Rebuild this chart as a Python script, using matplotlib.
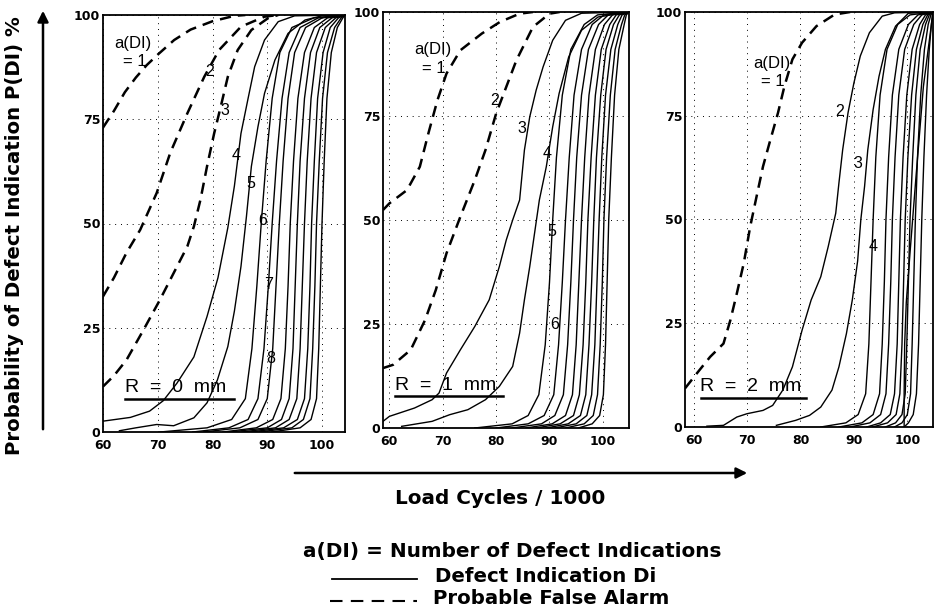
import matplotlib
matplotlib.use('Agg')
import matplotlib.pyplot as plt
from matplotlib.lines import Line2D

plt.rcParams['font.family'] = ['Liberation Sans', 'DejaVu Sans']
BOLD_FONT = ['DejaVu Sans']

# probability levels (%) at which the x positions of the steep curves are read
LEVELS = [0, 1, 3, 8, 20, 35, 50, 65, 80, 91, 97, 99.3, 100]

x_ticks = [60, 70, 80, 90, 100]
y_ticks = [0, 25, 50, 75, 100]

# ---- R = 0 mm ----
p1_dash1_x = [60, 62, 64, 66, 68, 70, 73, 76, 80, 84, 86]
p1_dash1_y = [73, 77, 81.5, 85, 88, 90.5, 94, 96.5, 98.5, 99.8, 100]
p1_dash2_x = [60, 62, 64.3, 66.8, 69.8, 72.3, 75.4, 78.5, 81.2, 85.2, 89.5, 92]
p1_dash2_y = [32.5, 37, 43, 48.5, 57.3, 67, 76.4, 85.2, 91.6, 97.2, 99.6, 100]
p1_dash3_x = [60, 62, 64.3, 67.4, 70.4, 72.9, 75.4, 76.6, 77.8, 79, 80.3, 81.5, 82.8, 84.6, 87.1, 90.1, 92]
p1_dash3_y = [10.9, 13.5, 17.3, 24.5, 31.7, 38.1, 44.5, 49.3, 55.7, 63.7, 71.6, 78, 85.2, 91.6, 96.4, 99.2, 100]
p1_s4_x = [60, 65, 68.5, 71, 73.5, 76.6, 79, 81, 82.8, 84, 85.2, 86.5, 87.7, 89.5, 92, 95, 104.2]
p1_s4_y = [2.6, 3.5, 5, 7.5, 11.7, 18, 27.7, 37, 49, 59, 71.6, 80, 87.6, 94, 98.4, 99.8, 100]
p1_s5_x = [63, 66, 69.8, 72.9, 76.6, 79, 80.9, 82.8, 84, 85.2, 86.2, 87.1, 88.3, 89.5, 91.4, 93.8, 96.9, 100, 104.2]
p1_s5_y = [0.3, 1, 1.8, 1.5, 3.4, 7, 12.5, 20.5, 29, 39.7, 51.7, 63.7, 73.2, 81.2, 89.2, 95.6, 98.8, 99.8, 100]
p1_bundle = [
    [70.4, 79, 83.5, 86, 87.2, 88.1, 88.9, 89.8, 90.9, 92.3, 94.5, 98.5, 104.2],
    [76.4, 83, 86.5, 88.3, 89.4, 90.2, 90.9, 91.7, 92.7, 94, 96, 99.3, 104.2],
    [78.4, 85, 88.3, 90, 91, 91.6, 92.2, 92.9, 93.8, 95, 97, 100, 104.2],
    [81.9, 88, 91, 92.5, 93.3, 93.8, 94.2, 94.8, 95.6, 96.8, 98.6, 101, 104.2],
    [83.2, 90, 92.6, 94, 94.7, 95.1, 95.5, 96, 96.8, 97.9, 99.6, 101.8, 104.2],
    [85.4, 91.5, 94, 95.4, 96, 96.4, 96.8, 97.3, 98, 99, 100.6, 102.5, 104.2],
    [87, 93, 95.5, 96.8, 97.4, 97.8, 98.1, 98.6, 99.2, 100.2, 101.5, 103, 104.2],
    [88.6, 94.5, 96.6, 97.8, 98.3, 98.7, 99.0, 99.5, 100.1, 101, 102.3, 103.5, 104.2],
    [90.8, 96, 98, 99, 99.4, 99.7, 100, 100.4, 100.9, 101.7, 102.8, 103.8, 104.2],
]

# ---- R = 1 mm ----
p2_dash1_x = [58.8, 60, 63.3, 65.7, 67.3, 69, 70.7, 73.3, 77.3, 80.7, 84.4, 86.9]
p2_dash1_y = [52.4, 54, 57.2, 62.8, 70.8, 78.8, 85.2, 90.8, 94.8, 97.6, 99.6, 100]
p2_dash2_x = [58.8, 60.7, 64, 66.7, 68.7, 70.7, 73.3, 76, 78, 80, 81.9, 83.8, 86.9, 90, 91.9]
p2_dash2_y = [14.4, 15.2, 18.8, 26, 33.2, 42, 50.8, 59.6, 66.8, 75.6, 82, 88.4, 96.4, 99.6, 100]
p2_s3_x = [58.8, 60, 64.7, 68, 69.3, 70.7, 73.3, 76, 78.7, 80.6, 81.9, 83.1, 84.4, 85.3, 86.3, 87.5, 88.8, 90.6, 93, 96, 104.9]
p2_s3_y = [1.6, 2.8, 4.8, 6.8, 8.4, 13.2, 18.8, 24.4, 30.8, 38.8, 45.2, 50, 54.8, 66.8, 74.8, 81.2, 86.8, 93.2, 98, 99.7, 100]
p2_s4_x = [62.3, 68, 71.3, 74.7, 78, 80.6, 83.1, 84.4, 85.3, 86.3, 87.2, 88.1, 89.4, 90.6, 91.8, 93.6, 96, 99.1, 104.9]
p2_s4_y = [0.4, 1.6, 3.2, 4.4, 6.8, 10, 14.8, 22.8, 30.8, 38.8, 46.8, 54.8, 62.8, 72.4, 80.4, 89.2, 95.6, 98.8, 100]
p2_bundle = [
    [76, 83, 86, 88, 89.2, 90, 90.6, 91.3, 92.4, 94, 96.5, 99, 104.9],
    [80, 86, 89, 90.8, 91.7, 92.4, 93, 93.7, 94.6, 96, 98, 100.2, 104.9],
    [83, 88.5, 91, 92.6, 93.4, 94, 94.5, 95.1, 96, 97.3, 99.2, 101, 104.9],
    [85.6, 90.5, 93, 94.3, 95, 95.5, 96, 96.6, 97.4, 98.6, 100.3, 101.8, 104.9],
    [87.5, 92, 94.5, 95.6, 96.3, 96.8, 97.2, 97.8, 98.6, 99.7, 101.3, 102.5, 104.9],
    [89.4, 93.5, 95.8, 96.8, 97.4, 97.9, 98.3, 98.8, 99.6, 100.6, 102, 103.1, 104.9],
    [91, 95, 97, 97.9, 98.5, 98.9, 99.3, 99.8, 100.5, 101.5, 102.8, 103.6, 104.9],
    [93, 96.5, 98.2, 99, 99.5, 99.9, 100.2, 100.7, 101.4, 102.3, 103.5, 104.1, 104.9],
    [95.4, 98, 99.4, 100.1, 100.5, 100.8, 101.1, 101.6, 102.2, 103, 104, 104.4, 104.9],
]

# ---- R = 2 mm ----
p3_dash1_x = [58.4, 60.6, 63.1, 65.6, 66.9, 68.1, 69.4, 70.6, 71.8, 73, 74.2, 75.8, 77, 78.5, 80.3, 83, 86.4, 89.3]
p3_dash1_y = [9.3, 12.9, 16.9, 20.1, 25.8, 32.2, 39.5, 48.3, 55.6, 62.8, 68.4, 75.7, 82.1, 88.6, 92.6, 96.6, 99.4, 100]
p3_s2_x = [62.5, 65.6, 68.1, 70, 73, 74.8, 76.7, 78.5, 80.3, 82, 83.8, 85.2, 86.6, 87.2, 87.9, 88.9, 90, 91.2, 92.9, 95.3, 97.6, 104.8]
p3_s2_y = [0.2, 0.4, 2.4, 3.2, 4, 5.2, 8.9, 14.5, 23.3, 30.6, 36.2, 43.5, 51.5, 58.8, 66.8, 75.7, 82.9, 89.4, 95, 99, 99.8, 100]
p3_s3_x = [75.5, 79.1, 81.7, 83.8, 85.9, 87.2, 88.6, 89.7, 90.7, 91.3, 92, 92.6, 93.6, 94.7, 95.9, 97.8, 100.2, 104.8]
p3_s3_y = [0.4, 1.6, 2.8, 4.8, 8.9, 14.5, 22.5, 30.6, 40, 50, 58, 66.8, 76.5, 84.5, 91, 96.6, 99.7, 100]
p3_bundle = [
    [83.8, 88.5, 90.8, 92.2, 92.8, 93.2, 93.6, 94.1, 94.9, 96.2, 98.2, 100.5, 104.8],
    [87.2, 91.5, 93.6, 94.8, 95.3, 95.7, 96, 96.5, 97.2, 98.4, 100.2, 102, 104.8],
    [89.3, 93, 95, 96, 96.5, 96.9, 97.2, 97.7, 98.4, 99.5, 101.2, 102.7, 104.8],
    [92.4, 95, 96.8, 97.6, 98.1, 98.4, 98.7, 99.2, 99.9, 100.9, 102.3, 103.4, 104.8],
    [93.5, 96.3, 97.9, 98.6, 99, 99.3, 99.6, 100.1, 100.8, 101.7, 102.9, 103.8, 104.8],
    [95.9, 97.8, 99, 99.6, 99.9, 100.2, 100.5, 101, 101.6, 102.4, 103.4, 104.1, 104.8],
    [97.6, 99, 100, 100.6, 100.9, 101.2, 101.5, 101.9, 102.5, 103.2, 103.9, 104.4, 104.8],
    [99.4, 100.2, 101.1, 101.7, 102.1, 102.4, 102.7, 103.1, 103.6, 104.1, 104.5, 104.7, 104.8],
]
p3_steep_x = [99.4, 99.4, 99.5, 99.8, 100.5, 101.6, 103, 104.8]
p3_steep_y = [0, 8, 20, 30, 42, 60, 82, 100]

# curve labels: (text, x, y)
p1_labels = [('a(DI)', 65.5, 93.2), ('= 1', 65.8, 88.8), ('2', 79.5, 86.4), ('3', 82.3, 77.2),
             ('4', 84.4, 66.4), ('5', 87.0, 59.6), ('6', 89.2, 50.8), ('7', 90.2, 35.3), ('8', 90.6, 17.7)]
p2_labels = [('a(DI)', 68.2, 90.9), ('= 1', 68.4, 86.5), ('2', 79.8, 78.8), ('3', 84.8, 72.0),
             ('4', 89.5, 66.0), ('5', 90.4, 47.2), ('6', 91.0, 24.8)]
p3_labels = [('a(DI)', 74.6, 87.6), ('= 1', 74.9, 83.2), ('2', 87.4, 76.0), ('3', 90.8, 63.5),
             ('4', 93.6, 43.4)]

W, H = 935, 609
fig = plt.figure(figsize=(W / 100, H / 100), dpi=100)


def px_rect(left, top, right, bottom):
    return [left / W, 1 - bottom / H, (right - left) / W, (bottom - top) / H]


SOLID = dict(color='black', lw=1.0, solid_joinstyle='round')
DASH = dict(color='black', lw=1.8, dashes=(4.5, 2.8))


def setup(ax, xlim):
    ax.set_xlim(*xlim)
    ax.set_ylim(0, 100)
    ax.set_xticks(x_ticks)
    ax.set_yticks(y_ticks)
    ax.tick_params(length=0)
    ax.tick_params(axis='x', pad=5)
    ax.tick_params(axis='y', pad=2)
    for lab in ax.get_xticklabels() + ax.get_yticklabels():
        lab.set_fontweight('bold')
        lab.set_family(BOLD_FONT)
        lab.set_fontsize(9)
    ax.grid(True, color='black', lw=0.7, linestyle=(0, (1, 5)))
    ax.set_axisbelow(True)
    for s in ax.spines.values():
        s.set_linewidth(1.3)


def radius_tag(ax, text, x0, x1, y):
    ax.text(x0, y + 0.6, text, fontsize=14, ha='left', va='bottom')
    ax.plot([x0, x1], [y, y], color='black', lw=1.8)


def curve_labels(ax, labels):
    for t, x, y in labels:
        ax.text(x, y, t, fontsize=12 if 'a' in t or '=' in t else 11.5, ha='center', va='center')


# panel 1
ax1 = fig.add_axes(px_rect(103, 15, 345, 432))
setup(ax1, (60, 104.2))
for dx, dy in [(p1_dash1_x, p1_dash1_y), (p1_dash2_x, p1_dash2_y), (p1_dash3_x, p1_dash3_y)]:
    ax1.plot(dx, dy, **DASH)
ax1.plot(p1_s4_x, p1_s4_y, **SOLID)
ax1.plot(p1_s5_x, p1_s5_y, **SOLID)
for bx in p1_bundle:
    ax1.plot(bx, LEVELS, **SOLID)
curve_labels(ax1, p1_labels)
radius_tag(ax1, 'R  =  0  mm', 64, 84, 8.0)

# panel 2
ax2 = fig.add_axes(px_rect(383, 12, 629, 428))
setup(ax2, (58.8, 104.9))
for dx, dy in [(p2_dash1_x, p2_dash1_y), (p2_dash2_x, p2_dash2_y)]:
    ax2.plot(dx, dy, **DASH)
ax2.plot(p2_s3_x, p2_s3_y, **SOLID)
ax2.plot(p2_s4_x, p2_s4_y, **SOLID)
for bx in p2_bundle:
    ax2.plot(bx, LEVELS, **SOLID)
curve_labels(ax2, p2_labels)
radius_tag(ax2, 'R  =  1  mm', 61.0, 81.3, 7.6)

# panel 3
ax3 = fig.add_axes(px_rect(685, 12, 933, 427))
setup(ax3, (58.4, 104.8))
ax3.plot(p3_dash1_x, p3_dash1_y, **DASH)
ax3.plot(p3_s2_x, p3_s2_y, **SOLID)
ax3.plot(p3_s3_x, p3_s3_y, **SOLID)
for bx in p3_bundle:
    ax3.plot(bx, LEVELS, **SOLID)
ax3.plot(p3_steep_x, p3_steep_y, **SOLID)
curve_labels(ax3, p3_labels)
radius_tag(ax3, 'R  =  2  mm', 61.3, 81.1, 7.1)

# axis titles with arrows
fig.text(15 / W, 1 - 236 / H, 'Probability of Defect Indication P(DI) %', rotation=90,
         ha='center', va='center', fontsize=14.2, fontweight='bold', family=BOLD_FONT)
fig.add_artist(matplotlib.patches.FancyArrowPatch((43 / W, 1 - 432 / H), (43 / W, 1 - 8 / H),
                                                  transform=fig.transFigure, arrowstyle='-|>',
                                                  mutation_scale=16, lw=1.8, color='black'))
fig.add_artist(matplotlib.patches.FancyArrowPatch((292 / W, 1 - 473 / H), (750 / W, 1 - 473 / H),
                                                  transform=fig.transFigure, arrowstyle='-|>',
                                                  mutation_scale=16, lw=1.8, color='black'))
fig.text(500 / W, 1 - 499 / H, 'Load Cycles / 1000', ha='center', va='center',
         fontsize=14.4, fontweight='bold', family=BOLD_FONT)

# key
fig.text(303 / W, 1 - 552 / H, 'a(DI) = Number of Defect Indications', ha='left', va='center',
         fontsize=14.4, fontweight='bold', family=BOLD_FONT)
fig.text(435 / W, 1 - 576 / H, 'Defect Indication Di', ha='left', va='center',
         fontsize=14.2, fontweight='bold', family=BOLD_FONT)
fig.text(433 / W, 1 - 598 / H, 'Probable False Alarm', ha='left', va='center',
         fontsize=14.2, fontweight='bold', family=BOLD_FONT)
fig.add_artist(Line2D([332 / W, 417 / W], [1 - 579 / H, 1 - 579 / H], transform=fig.transFigure,
                      color='black', lw=1.3))
fig.add_artist(Line2D([330 / W, 417 / W], [1 - 601 / H, 1 - 601 / H], transform=fig.transFigure,
                      color='black', lw=1.5, dashes=(6, 4)))

fig.savefig('out.png', dpi=100)
